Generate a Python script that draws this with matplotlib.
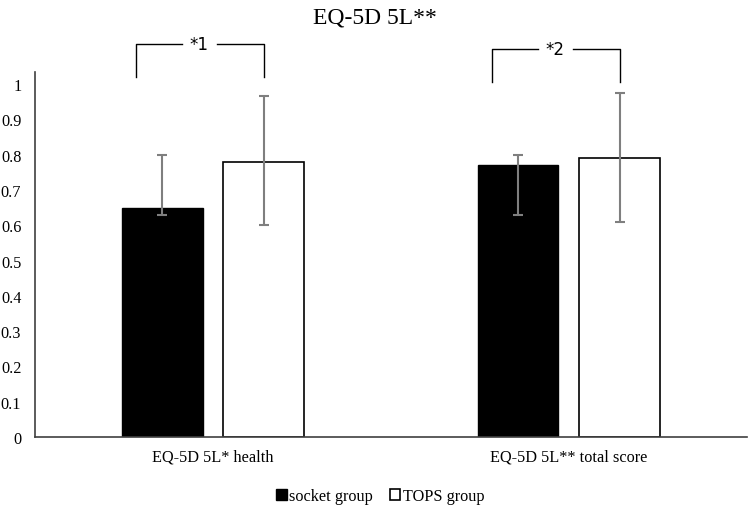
import matplotlib
matplotlib.use("Agg")
import matplotlib.pyplot as plt
import numpy as np

categories = ["EQ-5D 5L* health", "EQ-5D 5L** total score"]
series = ["socket group", "TOPS group"]
socket_vals = [0.65, 0.77]
socket_lo = [0.63, 0.63]
socket_hi = [0.80, 0.80]
tops_vals = [0.78, 0.79]
tops_lo = [0.60, 0.61]
tops_hi = [0.965, 0.975]
sig_labels = ["*1", "*2"]
yticks = [0, 0.1, 0.2, 0.3, 0.4, 0.5, 0.6, 0.7, 0.8, 0.9, 1]
ytick_labels = ["0", "0.1", "0.2", "0.3", "0.4", "0.5", "0.6", "0.7", "0.8", "0.9", "1"]

plt.rcParams['font.family'] = ['Liberation Serif', 'DejaVu Serif']

fig = plt.figure(figsize=(7.49, 5.10), dpi=100)
ax = fig.add_axes([0.047, 0.141, 0.950, 0.716])

x = np.arange(len(categories))
w = 0.2275
off = 0.143

s_err = [np.array(socket_vals) - np.array(socket_lo), np.array(socket_hi) - np.array(socket_vals)]
t_err = [np.array(tops_vals) - np.array(tops_lo), np.array(tops_hi) - np.array(tops_vals)]

ax.bar(x - off, socket_vals, w, color="black", edgecolor="black", linewidth=1, label=series[0], zorder=2)
ax.bar(x + off, tops_vals, w, color="white", edgecolor="black", linewidth=1.2, label=series[1], zorder=2)
ax.errorbar(x - off, socket_vals, yerr=s_err, fmt="none", ecolor="#7f7f7f", elinewidth=1.5, capsize=3.5, capthick=1.5, zorder=3)
ax.errorbar(x + off, tops_vals, yerr=t_err, fmt="none", ecolor="#7f7f7f", elinewidth=1.5, capsize=3.5, capthick=1.5, zorder=3)

ax.set_xlim(-0.5, 1.5)
ax.set_ylim(0, 1.034)
ax.set_yticks(yticks)
ax.set_yticklabels(ytick_labels, fontsize=11.7)
ax.set_xticks(x)
ax.set_xticklabels(categories, fontsize=11.7)
ax.tick_params(axis="both", length=0)
ax.tick_params(axis="x", pad=8)
ax.tick_params(axis="y", pad=10)
for s in ["top", "right"]:
    ax.spines[s].set_visible(False)
ax.spines["left"].set_color("#404040")
ax.spines["bottom"].set_color("#404040")
ax.spines["left"].set_linewidth(1.2)
ax.spines["bottom"].set_linewidth(1.2)

# significance brackets
br_top = [1.113, 1.099]
br_bot = [1.02, 1.006]
for i in range(len(categories)):
    xl = x[i] - 0.216
    xr = x[i] + 0.143
    xt = x[i] - 0.04
    yt = br_top[i]
    yb = br_bot[i]
    ax.plot([xl, xl, xt - 0.048], [yb, yt, yt], color="black", lw=1, clip_on=False)
    ax.plot([xt + 0.052, xr, xr], [yt, yt, yb], color="black", lw=1, clip_on=False)
    ax.text(xt, yt, sig_labels[i], ha="center", va="center", fontsize=12,
            family=["DejaVu Sans"], clip_on=False)

fig.suptitle("EQ-5D 5L**", fontsize=17, y=0.985, va="top")

leg = ax.legend(loc="center", bbox_to_anchor=(0.485, -0.162), ncol=2, frameon=False,
                fontsize=11.7, handlelength=0.65, handleheight=0.65, handletextpad=0.15,
                columnspacing=1.0)

fig.savefig("out.png", dpi=100)
